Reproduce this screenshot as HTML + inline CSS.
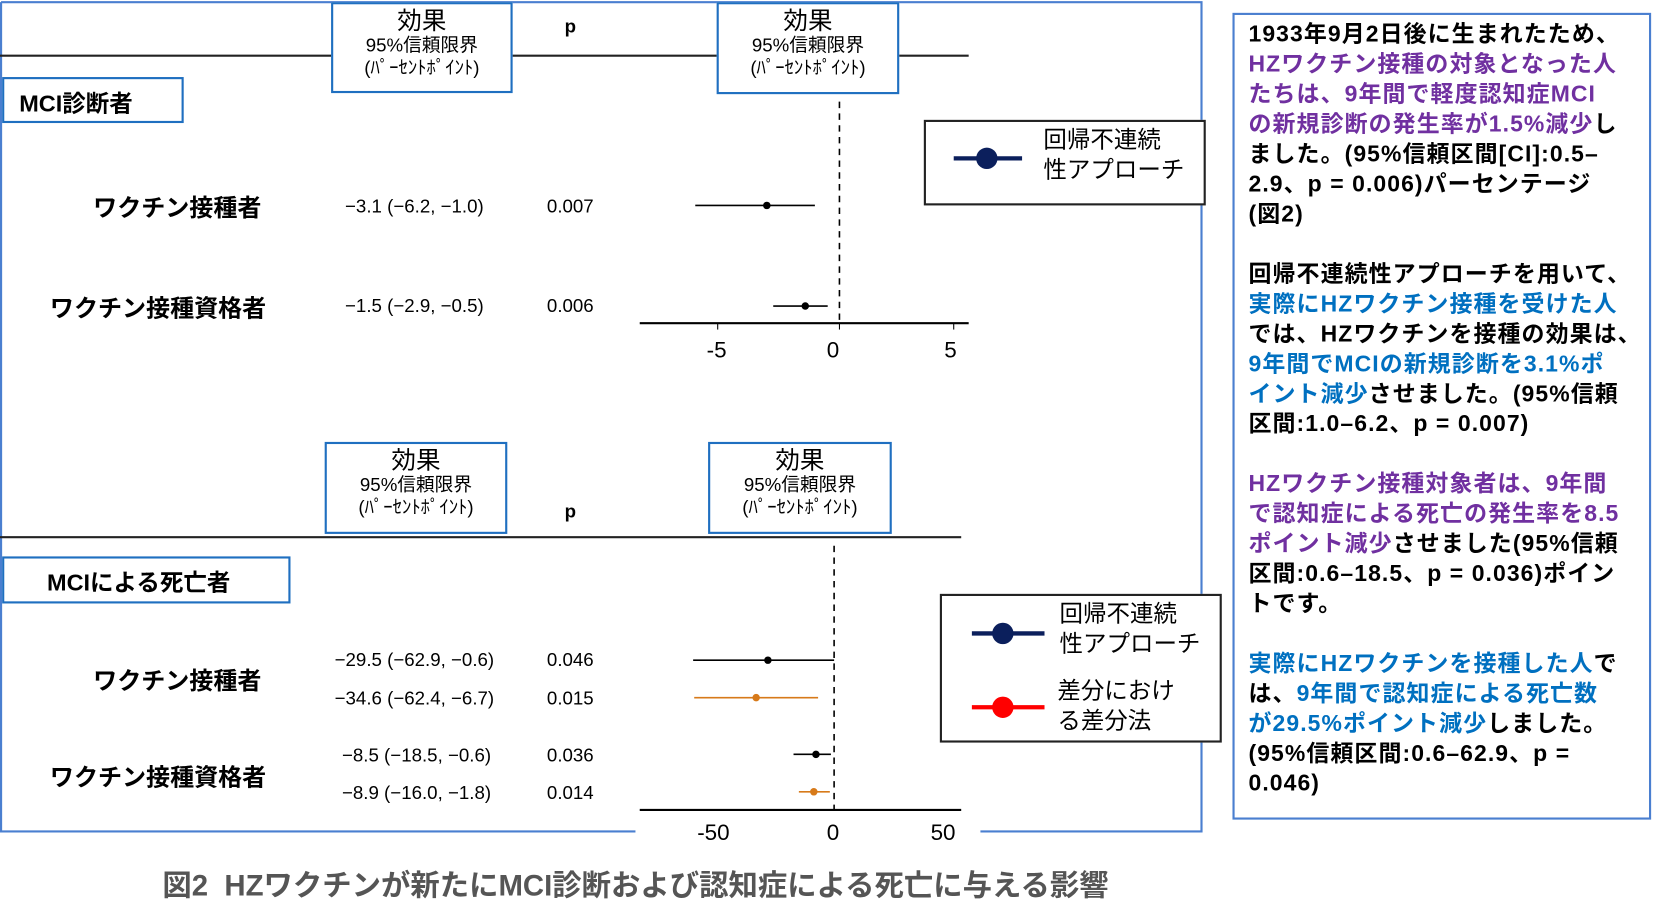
<!DOCTYPE html>
<html><head><meta charset="utf-8"><style>
html,body{margin:0;padding:0;background:#fff;width:1674px;height:913px;overflow:hidden}
#s{position:absolute;left:0;top:0;width:1560px;height:851px;transform:scale(1.068,1.07);transform-origin:0 0;font-family:"Liberation Sans","Noto Sans CJK JP",sans-serif;color:#000}
.a{position:absolute;white-space:nowrap}
.box{position:absolute;border:2px solid #1f6fc0;background:#fff;box-sizing:border-box}
.hb{text-align:center}
.hb .t{font-size:23px;line-height:25px;margin-top:3px}
.hb .u{font-size:17.5px;line-height:21px}
.lab{font-weight:bold;font-size:22.5px;transform:translate(-50%,-50%)}
.num{font-size:17.5px;transform:translate(-50%,-50%)}
.rt{position:absolute;left:1169px;top:18px;font-size:21.5px;letter-spacing:1px;line-height:28px;font-weight:bold;white-space:nowrap;font-family:"Liberation Sans","Noto Sans CJK JP",sans-serif}
.p{color:#7030a0}.b{color:#0070c0}
</style></head><body><div id="s">
<svg width="1560" height="851" style="position:absolute;left:0;top:0">
<g fill="none">
<path d="M1 2 H1125 V777 H918 M595 777 H1 V2" stroke="#4a7fd0" stroke-width="2"/>
<line x1="0" y1="52" x2="907" y2="52" stroke="#222" stroke-width="2"/>
<line x1="786" y1="95" x2="786" y2="302" stroke="#000" stroke-width="1.5" stroke-dasharray="6,5"/>
<line x1="599" y1="302" x2="907" y2="302" stroke="#000" stroke-width="2"/>
<line x1="672" y1="302" x2="672" y2="308" stroke="#000"/><line x1="786" y1="302" x2="786" y2="308" stroke="#000"/><line x1="893" y1="302" x2="893" y2="308" stroke="#000"/>
<line x1="651" y1="192" x2="763" y2="192" stroke="#000" stroke-width="1.5"/>
<line x1="724" y1="286" x2="775" y2="286" stroke="#000" stroke-width="1.5"/>
<line x1="0" y1="502" x2="900" y2="502" stroke="#222" stroke-width="2"/>
<line x1="781" y1="510" x2="781" y2="757" stroke="#000" stroke-width="1.5" stroke-dasharray="6,5"/>
<line x1="599" y1="757" x2="900" y2="757" stroke="#000" stroke-width="2"/>
<line x1="649" y1="617" x2="781" y2="617" stroke="#000" stroke-width="1.5"/>
<line x1="650" y1="652" x2="766" y2="652" stroke="#d77a1a" stroke-width="1.5"/>
<line x1="743" y1="705" x2="778" y2="705" stroke="#000" stroke-width="1.5"/>
<line x1="748" y1="740" x2="777" y2="740" stroke="#d77a1a" stroke-width="1.5"/>
</g>
<circle cx="718" cy="192" r="3.5"/><circle cx="754" cy="286" r="3.5"/>
<circle cx="719" cy="617" r="3.5"/><circle cx="708" cy="652" r="3.5" fill="#d77a1a"/>
<circle cx="764" cy="705" r="3.5"/><circle cx="762" cy="740" r="3.5" fill="#d77a1a"/>
</svg>

<div class="box hb" style="left:310px;top:2px;width:170px;height:85px"><div class="t">効果</div><div class="u">95%信頼限界</div><div class="u">(ﾊﾟｰｾﾝﾄﾎﾟｲﾝﾄ)</div></div>
<div class="box hb" style="left:671px;top:2px;width:171px;height:86px"><div class="t">効果</div><div class="u">95%信頼限界</div><div class="u">(ﾊﾟｰｾﾝﾄﾎﾟｲﾝﾄ)</div></div>
<div class="a num" style="left:534px;top:25px;font-weight:bold">p</div>
<div class="box" style="left:2px;top:72px;width:170px;height:43px;font-size:22px;font-weight:bold;padding:5px 0 0 14px">MCI診断者</div>
<div class="box" style="left:865px;top:112px;width:264px;height:80px;border-color:#222">
<svg width="100" height="70" style="position:absolute;left:0;top:0"><line x1="26" y1="34" x2="90" y2="34" stroke="#0b1f5c" stroke-width="4"/><circle cx="57" cy="34" r="10" fill="#0b1f5c"/></svg>
<div class="a" style="left:110px;top:3px;font-size:22px;line-height:28px">回帰不連続<br>性アプローチ</div></div>
<div class="a lab" style="left:166px;top:193px">ワクチン接種者</div>
<div class="a num" style="left:388px;top:193px">−3.1 (−6.2, −1.0)</div>
<div class="a num" style="left:534px;top:193px">0.007</div>
<div class="a lab" style="left:148px;top:287px">ワクチン接種資格者</div>
<div class="a num" style="left:388px;top:286px">−1.5 (−2.9, −0.5)</div>
<div class="a num" style="left:534px;top:286px">0.006</div>
<div class="a num" style="left:671px;top:328px;font-size:21px">-5</div>
<div class="a num" style="left:780px;top:328px;font-size:21px">0</div>
<div class="a num" style="left:890px;top:328px;font-size:21px">5</div>

<div class="box hb" style="left:304px;top:413px;width:171px;height:86px"><div class="t">効果</div><div class="u">95%信頼限界</div><div class="u">(ﾊﾟｰｾﾝﾄﾎﾟｲﾝﾄ)</div></div>
<div class="box hb" style="left:663px;top:413px;width:172px;height:86px"><div class="t">効果</div><div class="u">95%信頼限界</div><div class="u">(ﾊﾟｰｾﾝﾄﾎﾟｲﾝﾄ)</div></div>
<div class="a num" style="left:534px;top:478px;font-weight:bold">p</div>
<div class="box" style="left:2px;top:520px;width:270px;height:44px;font-size:22px;font-weight:bold;padding:5px 0 0 40px">MCIによる死亡者</div>
<div class="box" style="left:880px;top:555px;width:264px;height:139px;border-color:#222">
<svg width="100" height="135" style="position:absolute;left:0;top:0"><line x1="28" y1="35" x2="96" y2="35" stroke="#0b1f5c" stroke-width="4"/><circle cx="57" cy="35" r="10" fill="#0b1f5c"/><line x1="28" y1="104" x2="96" y2="104" stroke="#f00" stroke-width="4"/><circle cx="57" cy="104" r="10" fill="#f00"/></svg>
<div class="a" style="left:110px;top:3px;font-size:22px;line-height:28px">回帰不連続<br>性アプローチ</div>
<div class="a" style="left:108px;top:75px;font-size:22px;line-height:28px">差分におけ<br>る差分法</div></div>
<div class="a lab" style="left:166px;top:635px">ワクチン接種者</div>
<div class="a num" style="left:388px;top:617px">−29.5 (−62.9, −0.6)</div>
<div class="a num" style="left:534px;top:617px">0.046</div>
<div class="a num" style="left:388px;top:653px">−34.6 (−62.4, −6.7)</div>
<div class="a num" style="left:534px;top:653px">0.015</div>
<div class="a lab" style="left:148px;top:725px">ワクチン接種資格者</div>
<div class="a num" style="left:390px;top:706px">−8.5 (−18.5, −0.6)</div>
<div class="a num" style="left:534px;top:706px">0.036</div>
<div class="a num" style="left:390px;top:741px">−8.9 (−16.0, −1.8)</div>
<div class="a num" style="left:534px;top:741px">0.014</div>
<div class="a num" style="left:668px;top:779px;font-size:21px">-50</div>
<div class="a num" style="left:780px;top:779px;font-size:21px">0</div>
<div class="a num" style="left:883px;top:779px;font-size:21px">50</div>
<div class="a" style="left:152px;top:805px;font-size:27.5px;font-weight:bold;color:#555">図2&nbsp; HZワクチンが新たにMCI診断および認知症による死亡に与える影響</div>

<div class="box" style="left:1154px;top:12px;width:392px;height:754px;border-color:#4a7fd0"></div>
<div class="rt">1933年9月2日後に生まれたため、<br><span class="p">HZワクチン接種の対象となった人</span><br><span class="p">たちは、9年間で軽度認知症MCI</span><br><span class="p">の新規診断の発生率が1.5%減少</span>し<br>ました。(95%信頼区間[CI]:0.5–<br>2.9、p = 0.006)パーセンテージ<br>(図2)<br><br>回帰不連続性アプローチを用いて、<br><span class="b">実際にHZワクチン接種を受けた人</span><br>では、HZワクチンを接種の効果は、<br><span class="b">9年間でMCIの新規診断を3.1%ポ</span><br><span class="b">イント減少</span>させました。(95%信頼<br>区間:1.0–6.2、p = 0.007)<br><br><span class="p">HZワクチン接種対象者は、9年間</span><br><span class="p">で認知症による死亡の発生率を8.5</span><br><span class="p">ポイント減少</span>させました(95%信頼<br>区間:0.6–18.5、p = 0.036)ポイン<br>トです。<br><br><span class="b">実際にHZワクチンを接種した人</span>で<br>は、<span class="b">9年間で認知症による死亡数</span><br><span class="b">が29.5%ポイント減少</span>しました。<br>(95%信頼区間:0.6–62.9、p =<br>0.046)</div>
</div></body></html>
